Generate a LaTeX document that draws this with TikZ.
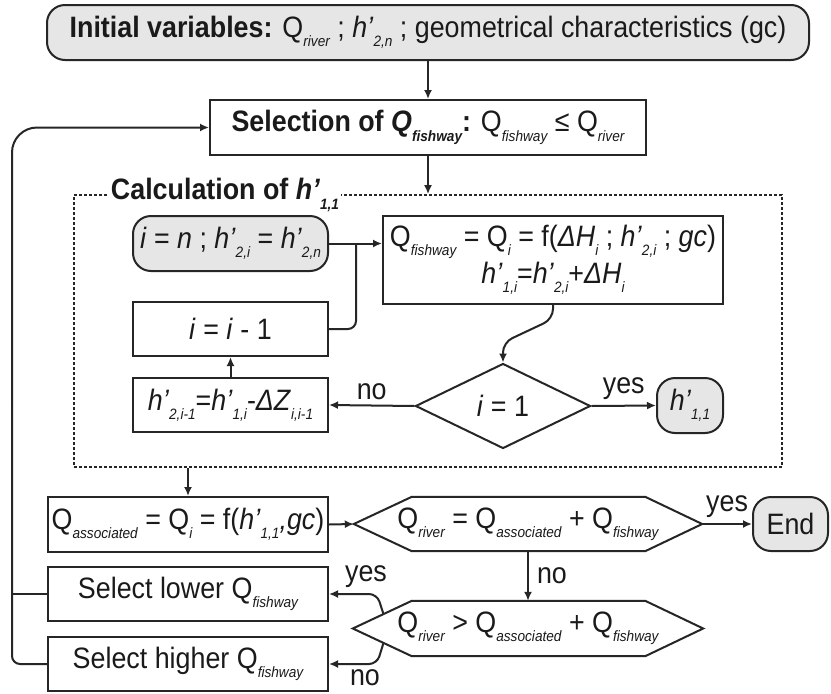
\documentclass[tikz,border=0pt]{standalone}
\usepackage{fontspec}
\setmainfont{Liberation Sans}[FakeStretch=0.91]
\usetikzlibrary{arrows.meta,shapes.geometric,calc}
\newcommand\subx[1]{\raisebox{-0.32em}{\fontsize{15}{15}\selectfont\itshape #1}}
\newcommand\hp{\textit{h’}}
\definecolor{linec}{HTML}{262626}
\definecolor{textc}{HTML}{1A1A1A}
\definecolor{grayf}{HTML}{E6E6E6}
\begin{document}
\begin{tikzpicture}[x=1pt,y=-1pt,
  font=\fontsize{29.5}{37}\selectfont,
  box/.style={draw=linec, line width=2pt, fill=white, text=textc, inner sep=1pt},
  rbox/.style={box, fill=grayf, rounded corners=18pt},
  ln/.style={draw=linec, line width=2pt},
  arr/.style={ln, -{Latex[length=9pt,width=8pt]}},
  lbl/.style={text=textc, inner sep=0pt}]
\useasboundingbox[fill=white] (0,0) rectangle (831,694);

% nodes
\node[rbox, minimum width=762pt, minimum height=55pt] (init) at (428,32.5)
  {\textbf{Initial variables:} Q\subx{river} ; \hp\subx{2,n} ; geometrical characteristics (gc)};
\node[box, minimum width=436pt, minimum height=55pt] (sel) at (428,127.5)
  {\textbf{Selection of \textit{Q}\subx{fishway}:} Q\subx{fishway} ≤ Q\subx{river}};
\node[draw=linec, line width=1.8pt, dash pattern=on 3pt off 2pt,
  minimum width=708pt, minimum height=272pt] (calc) at (428,331) {};
\node[fill=white, text=textc, inner sep=2pt, font=\fontsize{29.5}{30}\selectfont\bfseries] (title) at (225,195)
  {Calculation of \hp\subx{1,1}};

\node[rbox, minimum width=195pt, minimum height=55pt] (start) at (230.5,243.5)
  {\textit{i} = \textit{n} ; \hp\subx{2,i} = \hp\subx{2,n}};
\node[box, minimum width=340pt, minimum height=88pt, align=center] (qf) at (553,260)
  {Q\subx{fishway} = Q\subx{i} = f(\textit{ΔH}\subx{i} ; \hp\subx{2,i} ; \textit{gc})\\
   \hp\subx{1,i}=\hp\subx{2,i}+\textit{ΔH}\subx{i}};
\node[box, minimum width=195pt, minimum height=54pt] (dec) at (230.5,329)
  {\textit{i} = \textit{i} - 1};
\node[box, minimum width=195pt, minimum height=54pt] (upd) at (230.5,405)
  {\hp\subx{2,i-1}=\hp\subx{1,i}-\textit{ΔZ}\subx{i,i-1}};
\node[draw=linec, line width=2pt, fill=white, text=textc, diamond, aspect=2.06,
  minimum width=175pt, minimum height=85pt, inner sep=0pt] (dia) at (503,406) {\textit{i} = 1};
\node[rbox, minimum width=66pt, minimum height=55pt] (h11) at (690,405.5) {\hp\subx{1,1}};

\node[box, minimum width=280pt, minimum height=55pt] (qa) at (188,524.5)
  {Q\subx{associated} = Q\subx{i} = f(\hp\subx{1,1}\textit{,gc})};
\node[text=textc, minimum width=348pt, minimum height=54pt, inner sep=0pt] (hex1) at (528,524)
  {Q\subx{river} = Q\subx{associated} + Q\subx{fishway}};
\node[rbox, minimum width=75pt, minimum height=54pt] (fin) at (790.5,524) {End};
\node[text=textc, minimum width=350pt, minimum height=55pt, inner sep=0pt] (hex2) at (528,628.5)
  {Q\subx{river} > Q\subx{associated} + Q\subx{fishway}};
\node[box, minimum width=280pt, minimum height=54pt] (lower) at (188,594)
  {Select lower Q\subx{fishway}};
\node[box, minimum width=280pt, minimum height=54pt] (higher) at (188,664)
  {Select higher Q\subx{fishway}};

% hexagon outlines
\coordinate (h1tl) at ($(hex1.north west)+(58,0)$);
\coordinate (h1tr) at ($(hex1.north east)+(-57,0)$);
\coordinate (h1br) at ($(hex1.south east)+(-57,0)$);
\coordinate (h1bl) at ($(hex1.south west)+(58,0)$);
\draw[ln, line join=miter] (hex1.west) -- (h1tl) -- (h1tr) -- (hex1.east) -- (h1br) -- (h1bl) -- cycle;
\coordinate (h2tl) at ($(hex2.north west)+(59,0)$);
\coordinate (h2tr) at ($(hex2.north east)+(-58,0)$);
\coordinate (h2br) at ($(hex2.south east)+(-58,0)$);
\coordinate (h2bl) at ($(hex2.south west)+(59,0)$);
\draw[ln, line join=miter] (hex2.west) -- (h2tl) -- (h2tr) -- (hex2.east) -- (h2br) -- (h2bl) -- cycle;

% connectors
\draw[arr] (init.south) -- (sel.north);
\draw[arr] (sel.south) -- (sel.south |- calc.north);
\draw[arr] (start.east) -- (start.east -| qf.west);
\coordinate (j) at ($(start.east)+(27,0)$);
\draw[ln, rounded corners=8pt] (dec.east) -| (j);
\draw[arr] (upd.north) -- (dec.south);
\coordinate (s1) at ($(qf.south)+(0,14)$);
\coordinate (s2) at ($(dia.north)+(0,-20)$);
\draw[arr, rounded corners=10pt] (qf.south) -- (s1) -- (s2) -- (dia.north);
\draw[arr] (dia.west) -- node[lbl, above=5pt] {no} (upd.east);
\draw[arr] (dia.east) -- node[lbl, above=5pt] {yes} (h11.west);

\draw[arr] (calc.south -| qa.north) -- (qa.north);
\draw[arr] (qa.east) -- (hex1.west);
\draw[arr] (hex1.east) -- node[lbl, above=5pt] {yes} (fin.west);
\draw[arr] (hex1.south) -- node[lbl, right=8pt] {no} (hex2.north);

\coordinate (e1) at ($(hex2.west)!0.52!(h2tl)$);
\coordinate (c1) at ($(lower.east)+(48,0)$);
\draw[arr, rounded corners=8pt] (e1) -- (c1) -- (lower.east);
\node[lbl] (yeslow) at (366,577) {yes};
\coordinate (e2) at ($(hex2.west)!0.52!(h2bl)$);
\coordinate (c2) at ($(higher.east)+(48,0)$);
\draw[arr, rounded corners=8pt] (e2) -- (c2) -- (higher.east);
\node[lbl] (nolow) at (365,678) {no};

\coordinate (lx) at (12,400);
\draw[ln, rounded corners=8pt] (higher.west) -| (lx);
\draw[arr, rounded corners=25pt] (lx) |- (sel.west);
\draw[ln] (lower.west) -- (lower.west -| lx);
\end{tikzpicture}
\end{document}
